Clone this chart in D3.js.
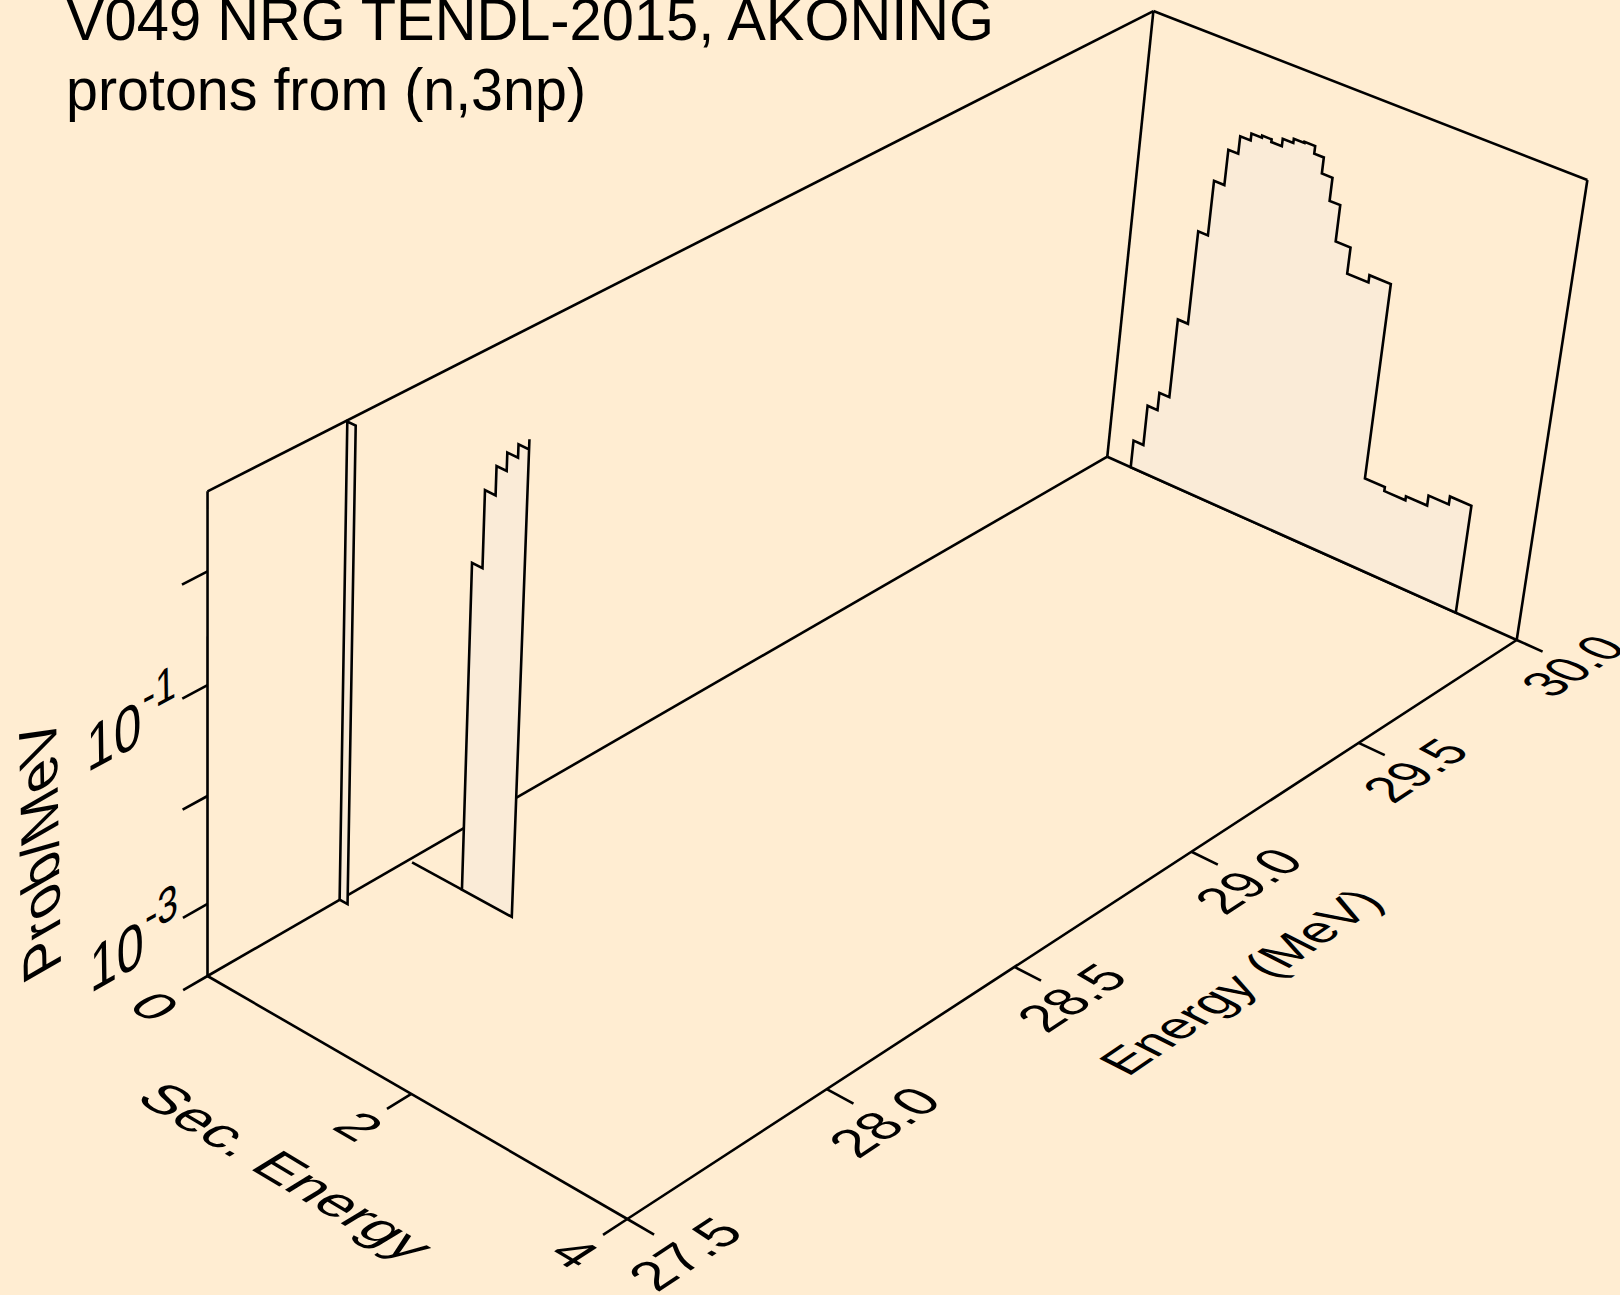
<!DOCTYPE html><html><head><meta charset="utf-8"><script src="https://cdn.jsdelivr.net/npm/d3@7"></script>
<style>html,body{margin:0;padding:0;overflow:hidden;background:#FFEDD2}svg{display:block}text{font-family:"Liberation Sans",Arial,sans-serif;fill:#000}</style></head><body><svg id="c" width="1620" height="1295"></svg><script>
// ---------- data ----------
const titleLines=["V049 NRG TENDL-2015, AKONING","protons from (n,3np)"];
const secTicks=[0,2,4];
const energyTicks=[27.5,28.0,28.5,29.0,29.5,30.0];
const probTicks=[1e-3,1e-2,1e-1,1];
const probLabelled=[["-3",1e-3],["-1",1e-1]];
const secDomain=[0,4];
const energyDomain=[27.5,30];
const probDomain=[Math.pow(10,-3.682),Math.pow(10,0.688)];

const backEnergy=30.0;
const backEdges=[0.24,0.34,0.44,0.54,0.64,0.735,0.835,0.93,1.03,1.13,1.22,1.32,1.42,1.52,1.62,1.71,1.81,1.91,2.05,2.25,2.45,2.64,2.84,3.04,3.23,3.43];
const backProb=[3.89e-4,9.77e-4,1.46e-3,8.71e-3,0.0700,0.234,0.507,0.741,0.861,0.902,0.851,1.0,1.096,1.122,0.955,0.676,0.410,0.186,0.105,0.123,1.60e-3,1.46e-3,1.60e-3,2.00e-3,2.40e-3];

const midEnergy=28.0;
const midFloorStart=0.04;
const midEdges=[0.54,0.64,0.74,0.835,0.935,1.033];
const midProb=[0.226,1.107,1.995,2.884,3.758];
const midEndProb=4.603;

const sliverEnergy=27.826;
const sliverEdges=[0,0.08];
const sliverProb=[4.764];

// ---------- projection (calibrated from the box corners) ----------
const cA=[207.5,976],cB=[627.3,1219],cC=[1516.7,640],cD=[1107.3,456.7],cAt=[207.7,491.7],cDt=[1153.3,10.7],cCt=[1587.3,180];
function solve(M,b){const n=b.length;M=M.map((r,i)=>[...r,b[i]]);for(let i=0;i<n;i++){let p=i;for(let k=i;k<n;k++)if(Math.abs(M[k][i])>Math.abs(M[p][i]))p=k;[M[i],M[p]]=[M[p],M[i]];for(let k=0;k<n;k++)if(k!=i){const f=M[k][i]/M[i][i];for(let j=i;j<=n;j++)M[k][j]-=f*M[i][j];}}return M.map((r,i)=>r[n]/r[i]);}
const MM=[],bb=[];[[0,0,cA],[1,0,cB],[0,1,cD],[1,1,cC]].forEach(([u,v,p])=>{MM.push([u,v,1,0,0,0,-u*p[0],-v*p[0]]);bb.push(p[0]);MM.push([0,0,0,u,v,1,-u*p[1],-v*p[1]]);bb.push(p[1]);});
const [a1,a2,a4,b1,b2,b4,c1,c2]=solve(MM,bb);
const R=[],r=[];[[0,0,cAt],[0,1,cDt],[1,1,cCt]].forEach(([u,v,p])=>{const d=c1*u+c2*v+1;R.push([1,0,-p[0]]);r.push(p[0]*d-(a1*u+a2*v+a4));R.push([0,1,-p[1]]);r.push(p[1]*d-(b1*u+b2*v+b4));});
const NN=[[0,0,0],[0,0,0],[0,0,0]],nb=[0,0,0];R.forEach((row,i)=>{for(let a=0;a<3;a++){nb[a]+=row[a]*r[i];for(let c=0;c<3;c++)NN[a][c]+=row[a]*row[c];}});
const [a3,b3,c3]=solve(NN,nb);
const P=(u,v,w)=>{const d=c1*u+c2*v+c3*w+1;return[(a1*u+a2*v+a3*w+a4)/d,(b1*u+b2*v+b3*w+b4)/d];};
const floorInv=(x,y)=>solve([[a1-x*c1,a2-x*c2],[b1-y*c1,b2-y*c2]],[x-a4,y-b4]);

// ---------- scales ----------
const sec=d3.scaleLinear().domain(secDomain).range([0,1]);
const energy=d3.scaleLinear().domain(energyDomain).range([0,1]);
const prob=d3.scaleLog().domain(probDomain).range([0,1]);

const svg=d3.select("#c");
const BG="#FFEDD2",FILL="#FAEBD7",SW=2.6;
svg.append("rect").attr("width",1620).attr("height",1295).attr("fill",BG);
const line=d3.line();
function stroke(sel){return sel.attr("fill","none").attr("stroke","#000").attr("stroke-width",SW).attr("stroke-linejoin","miter").attr("stroke-linecap","butt");}
function seg(a,b){stroke(svg.append("path").attr("d",line([a,b])));}

// box
seg(P(0,0,0),P(0,0,1));seg(P(0,0,1),P(0,1,1));seg(P(0,1,1),P(0,1,0));seg(P(0,1,1),P(1,1,1));seg(P(1,1,1),P(1,1,0));
seg(P(0,0,0),P(0,1,0));seg(P(0,1,0),P(1,1,0));seg(P(0,0,0),P(1,0,0));seg(P(1,0,0),P(1,1,0));

// ticks
const tickV=0.0235,tickU=0.06;
secTicks.forEach(s=>seg(P(sec(s),0,0),P(sec(s),-tickV,0)));
energyTicks.forEach(e=>seg(P(1,energy(e),0),P(1+tickU,energy(e),0)));
probTicks.forEach(p=>seg(P(0,0,prob(p)),P(0,-tickV,prob(p))));

// histograms
function hist(E,edges,vals,endVal,floorStart){
  const v=energy(E),pts=[];
  pts.push(P(sec(edges[0]),v,0));
  vals.forEach((p,i)=>{pts.push(P(sec(edges[i]),v,prob(p)));pts.push(P(sec(edges[i+1]),v,prob(p)));});
  if(endVal!=null)pts.push(P(sec(edges[edges.length-1]),v,prob(endVal)));
  pts.push(P(sec(edges[edges.length-1]),v,0));
  svg.append("path").attr("d",line(pts)+"Z").attr("fill",FILL);
  stroke(svg.append("path").attr("d",line(pts)+"Z"));
  if(floorStart!=null)seg(P(sec(floorStart),v,0),P(sec(edges[0]),v,0));
}
hist(backEnergy,backEdges,backProb,null,null);
hist(midEnergy,midEdges,midProb,midEndProb,midFloorStart);
hist(sliverEnergy,sliverEdges,sliverProb,null,null);

// text helpers: text lying in a plane of the box
function put(str,p,e1,e2,s1,s2,anchor,dy){
  const l1=Math.hypot(e1[0],e1[1]),l2=Math.hypot(e2[0],e2[1]);
  const m=[e1[0]/l1*s1,e1[1]/l1*s1,-e2[0]/l2*s2,-e2[1]/l2*s2,p[0],p[1]];
  return svg.append("text").attr("transform","matrix("+m.map(n=>n.toFixed(4)).join(",")+")").attr("font-size",1).attr("text-anchor",anchor).attr("y",dy).text(str);
}
const dv=(a,b)=>[b[0]-a[0],b[1]-a[1]];
function floorText(str,u,v,alongU,s1,s2){
  const p=P(u,v,0),du=dv(p,P(u+.01,v,0)),dV=dv(p,P(u,v+.01,0));
  return alongU?put(str,p,du,dV,s1,s2,"middle",0.36):put(str,p,dV,[-du[0],-du[1]],s1,s2,"middle",0.36);
}
secTicks.forEach(s=>floorText(String(s),sec(s),-0.05,true,56,52));
energyTicks.forEach(e=>floorText(e.toFixed(1),1.13,energy(e)-0.001,false,55-8*energy(e),55));
let fp=floorInv(287,1171);floorText("Sec. Energy",fp[0],fp[1],true,58.5,54);
fp=floorInv(1240,981.5);floorText("Energy (MeV)",fp[0],fp[1],false,50.5,52);

probLabelled.forEach(([ex,p])=>{
  const w=prob(p),a=P(0,-0.111,w),o=[a[0],a[1]+23];
  const t=put("10",o,dv(a,P(0,-0.101,w)),dv(a,P(0,-0.111,w+.01)),56,64,"start",0);
  t.append("tspan").attr("dy",-0.44).attr("dx",0.03).attr("font-size",0.76).text(ex);
});
{const a=P(0,-0.148,0.03);
 const e1=dv(a,P(0,-0.148,0.04)),e2=dv(a,P(0,-0.158,0.03));
 put("Prob/MeV",[61,966],e1,e2,57,62,"start",0);}

// title
svg.append("text").attr("x",66).attr("y",40).attr("font-size",60).attr("textLength",928).attr("lengthAdjust","spacingAndGlyphs").text(titleLines[0]);
svg.append("text").attr("x",66).attr("y",110).attr("font-size",60).attr("textLength",520).attr("lengthAdjust","spacingAndGlyphs").text(titleLines[1]);
</script></body></html>
